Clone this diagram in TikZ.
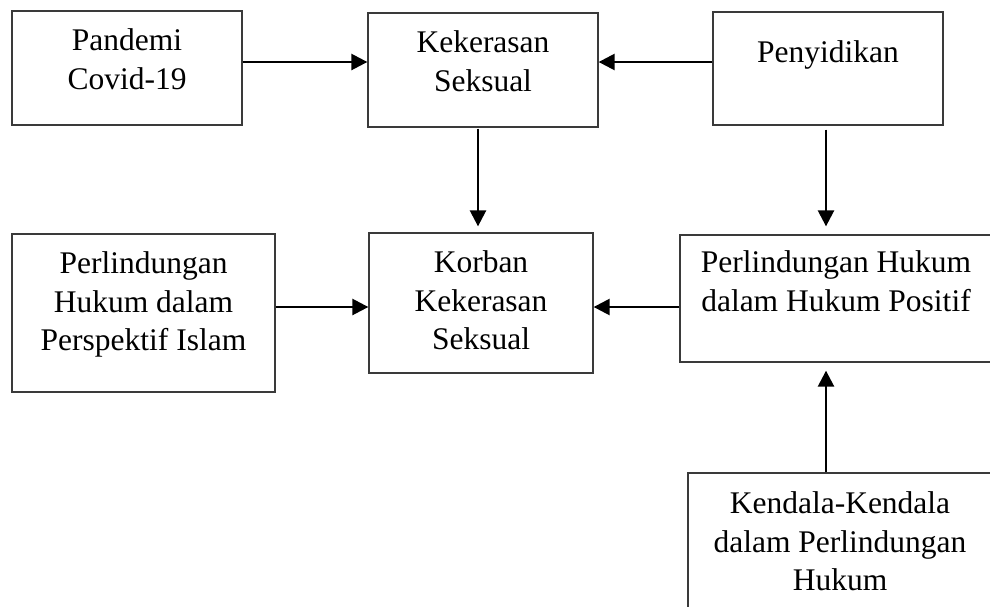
\documentclass[tikz,border=0pt]{standalone}
\usepackage{fontspec}
\setmainfont{Liberation Serif}
\usetikzlibrary{arrows.meta,positioning}
\definecolor{Frame}{HTML}{3A3A3A}

\begin{document}
\begin{tikzpicture}[x=0.5pt,y=-0.5pt,
    b/.style={draw=Frame,line width=0.65pt,inner sep=0pt},
    t/.style={anchor=north,inner sep=0pt,align=center,font=\fontsize{15.75}{19.25}\selectfont},
    a/.style={-{Triangle[length=8pt,width=8pt]},line width=1.25pt}]
  \useasboundingbox (0,0) rectangle (990,606);
  \clip (0,0) rectangle (990,606);
  % baris atas
  \node[b,minimum width=115pt,minimum height=57pt,label={[t,yshift=-9pt]north:{Pandemi\\Covid-19}}] (pandemi) at (127,68) {};
  \node[b,minimum width=115pt,minimum height=57pt,label={[t,yshift=-9pt]north:{Kekerasan\\Seksual}}] (kekerasan) at (483,70) {};
  \node[b,minimum width=115pt,minimum height=56.5pt,label={[t,yshift=-14.5pt]north:{Penyidikan}}] (penyidikan) at (828,68.5) {};
  % baris tengah
  \node[b,minimum width=131.5pt,minimum height=79pt,label={[t,yshift=-9pt]north:{Perlindungan\\Hukum dalam\\Perspektif Islam}}] (islam) at (143.5,313) {};
  \node[b,minimum width=112pt,minimum height=70pt,label={[t,yshift=-9pt]north:{Korban\\Kekerasan\\Seksual}}] (korban) at (481,303) {};
  \node[b,minimum width=156pt,minimum height=63.5pt,label={[t,yshift=-8pt]north:{Perlindungan Hukum\\dalam Hukum Positif}}] (positif) at (836,298.5) {};
  % bawah
  \node[b,minimum width=152pt,minimum height=83.5pt,label={[t,yshift=-9.5pt]north:{Kendala-Kendala\\dalam Perlindungan\\Hukum}}] (kendala) at (840,556.5) {};
  \coordinate (atas) at (0,62);
  \coordinate (tengah) at (0,307);
  \coordinate (kiri) at (478,0);
  \coordinate (kanan) at (826,0);
  \draw[a] (pandemi.east |- atas) -- (kekerasan.west |- atas);
  \draw[a] (penyidikan.west |- atas) -- (kekerasan.east |- atas);
  \draw[a,shorten <=0.5pt,shorten >=3pt] (kiri |- kekerasan.south) -- (kiri |- korban.north);
  \draw[a,shorten <=2pt,shorten >=4pt] (kanan |- penyidikan.south) -- (kanan |- positif.north);
  \draw[a] (islam.east |- tengah) -- (korban.west |- tengah);
  \draw[a] (positif.west |- tengah) -- (korban.east |- tengah);
  \draw[a,shorten >=4pt] (kanan |- kendala.north) -- (kanan |- positif.south);
\end{tikzpicture}
\end{document}
